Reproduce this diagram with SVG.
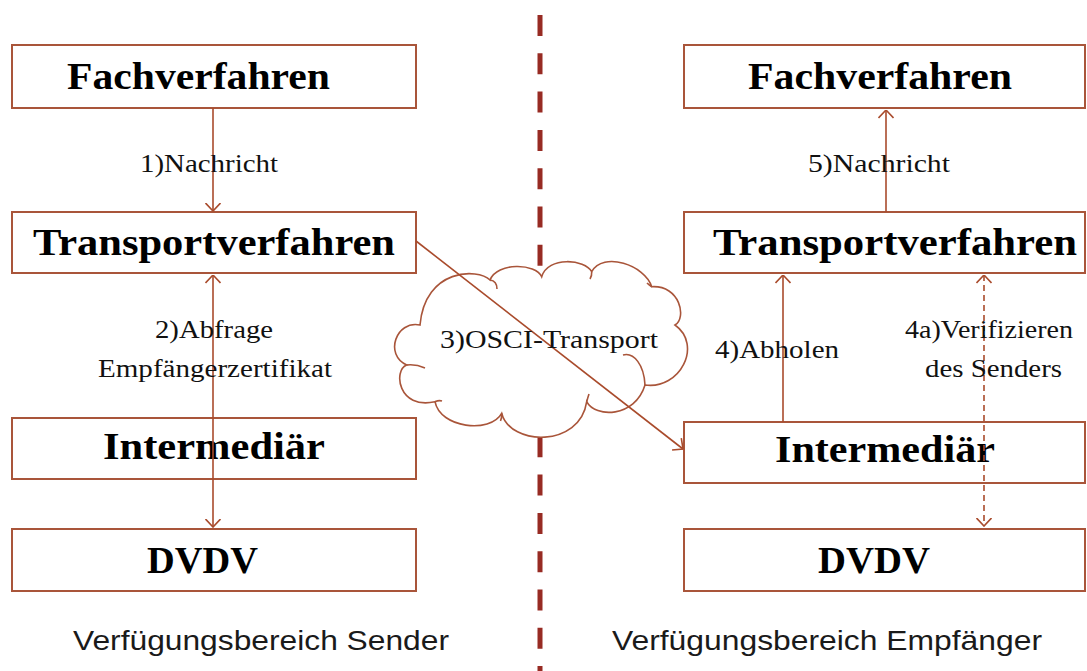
<svg xmlns="http://www.w3.org/2000/svg" width="1087" height="671" viewBox="0 0 1087 671">
  <defs>
    <style>
      .box { fill: #ffffff; stroke: #a9553a; stroke-width: 2; }
      .title { font-family: "Liberation Serif", "Times New Roman", serif; font-weight: bold; font-size: 37px; fill: #000; }
      .lbl { font-family: "Liberation Serif", "Times New Roman", serif; font-size: 25px; fill: #111; }
      .area { font-family: "Liberation Sans", Arial, sans-serif; font-size: 28px; fill: #1a1a1a; }
      .edge { fill: none; stroke: #a94b2c; stroke-width: 1.6; }
      .dash { stroke-dasharray: 6 4; }
      .cloud { fill: #ffffff; stroke: #a9553a; stroke-width: 1.6; }
      .stub { fill: none; stroke: #a9553a; stroke-width: 1.6; }
    </style>
    <marker id="arrow" markerUnits="userSpaceOnUse" viewBox="0 0 9 16" refX="8.5" refY="8" markerWidth="9" markerHeight="16" orient="auto-start-reverse">
      <path d="M0.5,0.5 L8.5,8 L0.5,15.5" fill="none" stroke="#a94b2c" stroke-width="1.6"/>
    </marker>
  </defs>

  <rect width="1087" height="671" fill="#ffffff"/>

  <!-- boundary between the two domains -->
  <line id="separator" x1="540" y1="15" x2="540" y2="671" stroke="#972b23" stroke-width="5" stroke-dasharray="21 17.3"/>

  <!-- sender side -->
  <g id="s-fachverfahren">
    <rect class="box" x="12" y="45" width="404" height="63"/>
    <text class="title" x="67" y="89" textLength="263" lengthAdjust="spacingAndGlyphs">Fachverfahren</text>
  </g>
  <g id="s-transportverfahren">
    <rect class="box" x="12" y="212" width="404" height="61"/>
    <text class="title" x="33" y="255" textLength="362" lengthAdjust="spacingAndGlyphs">Transportverfahren</text>
  </g>
  <g id="s-intermediaer">
    <rect class="box" x="12" y="418" width="404" height="61"/>
    <text class="title" x="103" y="459" textLength="222" lengthAdjust="spacingAndGlyphs">Intermediär</text>
  </g>
  <g id="s-dvdv">
    <rect class="box" x="12" y="529" width="404" height="62"/>
    <text class="title" x="147" y="573" textLength="111" lengthAdjust="spacingAndGlyphs">DVDV</text>
  </g>

  <!-- receiver side -->
  <g id="r-fachverfahren">
    <rect class="box" x="684" y="45" width="401" height="63"/>
    <text class="title" x="748" y="89" textLength="264" lengthAdjust="spacingAndGlyphs">Fachverfahren</text>
  </g>
  <g id="r-transportverfahren">
    <rect class="box" x="684" y="212" width="401" height="61"/>
    <text class="title" x="713" y="255" textLength="364" lengthAdjust="spacingAndGlyphs">Transportverfahren</text>
  </g>
  <g id="r-intermediaer">
    <rect class="box" x="684" y="422" width="401" height="61"/>
    <text class="title" x="775" y="462" textLength="220" lengthAdjust="spacingAndGlyphs">Intermediär</text>
  </g>
  <g id="r-dvdv">
    <rect class="box" x="684" y="529" width="401" height="62"/>
    <text class="title" x="818" y="573" textLength="112" lengthAdjust="spacingAndGlyphs">DVDV</text>
  </g>

  <!-- network cloud -->
  <g id="osci-cloud">
    <path class="cloud" d="M420,325
      C396,320 384,355 406.7,365
      C393,370 398,410 435,401.7
      C440,428 490,434 501.7,413.3
      C510,446 580,448 586.7,401.7
      C595,418 635,418 645,385
      C680,390 703,345 675,325
      C687,318 680,285 651.7,286.7
      C645,265 603,251 591.7,271.7
      C585,259 548,256 541.7,276.7
      C536,263 497,262 490,280
      C478,268 425,268 420,325 Z"/>
    <path class="stub" d="M490,280 Q497,281 497,289"/>
    <path class="stub" d="M591.7,271.7 Q592,276 590,279"/>
    <path class="stub" d="M623,355 C634,352 644,365 645,385"/>
    <path class="stub" d="M586.7,401.7 Q588,397 589,394"/>
    <path class="stub" d="M501.7,413.3 Q502,418 500.5,421"/>
    <path class="stub" d="M435,401.7 Q439,400 442,401"/>
    <path class="stub" d="M406.7,365 Q416,364 425,368"/>
    <path class="stub" d="M651.7,286.7 Q649,285 647,283"/>
  </g>

  <!-- connectors -->
  <g id="connectors">
    <line class="edge" x1="213" y1="108" x2="213" y2="211" marker-end="url(#arrow)"/>
    <line class="edge" x1="213" y1="275" x2="213" y2="527" marker-start="url(#arrow)" marker-end="url(#arrow)"/>
    <line class="edge" x1="416" y1="241" x2="683" y2="449" marker-end="url(#arrow)"/>
    <line class="edge" x1="783" y1="422" x2="783" y2="275" marker-end="url(#arrow)"/>
    <line class="edge dash" x1="984" y1="275" x2="984" y2="526" marker-start="url(#arrow)" marker-end="url(#arrow)"/>
    <line class="edge" x1="886" y1="212" x2="886" y2="110" marker-end="url(#arrow)"/>
  </g>

  <!-- connector labels -->
  <g id="edge-labels">
    <text class="lbl" x="140" y="172" textLength="138" lengthAdjust="spacingAndGlyphs">1)Nachricht</text>
    <text class="lbl" x="155" y="338" textLength="118" lengthAdjust="spacingAndGlyphs">2)Abfrage</text>
    <text class="lbl" x="98" y="377" textLength="234" lengthAdjust="spacingAndGlyphs">Empfängerzertifikat</text>
    <text class="lbl" x="440" y="348" textLength="218" lengthAdjust="spacingAndGlyphs">3)OSCI-Transport</text>
    <text class="lbl" x="715" y="358" textLength="124" lengthAdjust="spacingAndGlyphs">4)Abholen</text>
    <text class="lbl" x="905" y="338" textLength="168" lengthAdjust="spacingAndGlyphs">4a)Verifizieren</text>
    <text class="lbl" x="925" y="377" textLength="137" lengthAdjust="spacingAndGlyphs">des Senders</text>
    <text class="lbl" x="808" y="172" textLength="142" lengthAdjust="spacingAndGlyphs">5)Nachricht</text>
  </g>

  <!-- domain captions -->
  <text class="area" x="73" y="650" textLength="376" lengthAdjust="spacingAndGlyphs">Verfügungsbereich Sender</text>
  <text class="area" x="612" y="650" textLength="430" lengthAdjust="spacingAndGlyphs">Verfügungsbereich Empfänger</text>
</svg>
